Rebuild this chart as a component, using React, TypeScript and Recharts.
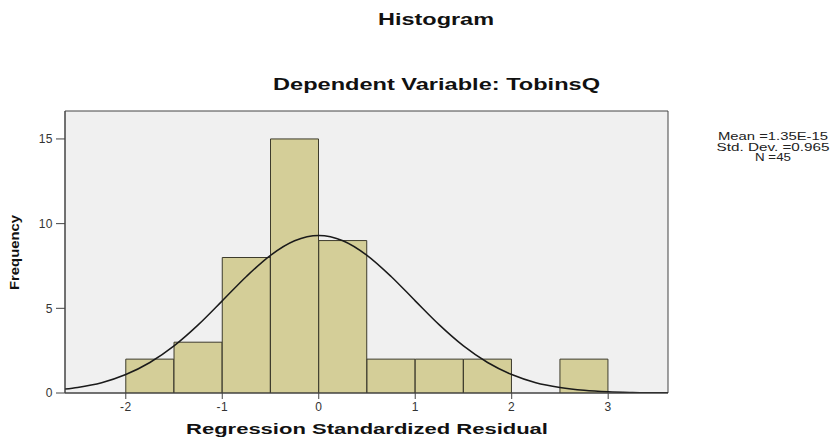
import React from 'react';
import { ComposedChart, Bar, Line, XAxis, YAxis, CartesianGrid, ReferenceArea } from 'recharts';

// histogram bins (width 0.5) and their counts
const binCenters = [-1.75, -1.25, -0.75, -0.25, 0.25, 0.75, 1.25, 1.75, 2.25, 2.75];
const frequencies = [2, 3, 8, 15, 9, 2, 2, 2, 0, 2];

// normal curve
const curveX = [-2.63, -2.5, -2.25, -2, -1.75, -1.5, -1.25, -1, -0.75, -0.5, -0.25, 0, 0.25, 0.5, 0.75, 1, 1.25, 1.5, 1.75, 2, 2.25, 2.5, 2.75, 3, 3.25, 3.5, 3.62];
const curveY = [0.23, 0.33, 0.61, 1.09, 1.8, 2.78, 4.02, 5.44, 6.88, 8.13, 8.99, 9.3, 8.99, 8.13, 6.88, 5.44, 4.02, 2.78, 1.8, 1.09, 0.61, 0.33, 0.16, 0.07, 0.03, 0.01, 0.01];

const xTicks = [-2, -1, 0, 1, 2, 3];
const yTicks = [0, 5, 10, 15];
const statsLines = ['Mean =1.35E-15', 'Std. Dev. =0.965', 'N =45'];
const statsWidths = [110, 113, 36];

const X_DOMAIN: [number, number] = [-2.63, 3.62];
const Y_DOMAIN: [number, number] = [0, 16.65];

const FONT = '"Liberation Sans", Arial, sans-serif';

const binData = binCenters.map((x, i) => ({ x, count: frequencies[i] }));
const curveData = curveX.map((x, i) => ({ x, y: curveY[i] }));

const tickStyle = { fontSize: 12, fill: '#333', fontFamily: FONT, letterSpacing: 0.5 };

export default function App() {
    return (
        <div style={{ position: 'absolute', left: 0, top: 0, width: 835, height: 441, background: '#fff' }}>
            <ComposedChart
                width={835}
                height={441}
                data={binData}
                margin={{ top: 111, right: 167, bottom: 2, left: 15 }}
                barCategoryGap={0}
                barGap={0}
            >
                <CartesianGrid fill="#f0f0f0" horizontal={false} vertical={false} />
                <XAxis
                    dataKey="x"
                    type="number"
                    domain={X_DOMAIN}
                    ticks={xTicks}
                    allowDataOverflow
                    height={46}
                    tickSize={6}
                    tickMargin={3}
                    axisLine={{ stroke: '#444' }}
                    tickLine={{ stroke: '#444' }}
                    tick={tickStyle}
                />
                <XAxis xAxisId="curve" dataKey="x" type="number" domain={X_DOMAIN} allowDataOverflow hide />
                <YAxis
                    domain={Y_DOMAIN}
                    ticks={yTicks}
                    allowDataOverflow
                    width={50}
                    tickSize={9}
                    tickMargin={3}
                    axisLine={{ stroke: '#444' }}
                    tickLine={{ stroke: '#444' }}
                    tick={tickStyle}
                />
                <Bar dataKey="count" fill="#d4ce98" stroke="#3d3b2c" strokeWidth={1} isAnimationActive={false} />
                <Line
                    xAxisId="curve"
                    data={curveData}
                    dataKey="y"
                    type="monotone"
                    dot={false}
                    stroke="#1a1a1a"
                    strokeWidth={1.5}
                    isAnimationActive={false}
                />
                <ReferenceArea
                    x1={X_DOMAIN[0]}
                    x2={X_DOMAIN[1]}
                    y1={Y_DOMAIN[0]}
                    y2={Y_DOMAIN[1]}
                    fill="none"
                    stroke="#444"
                    strokeWidth={1}
                    ifOverflow="visible"
                />
            </ComposedChart>
            <svg
                width={835}
                height={441}
                style={{ position: 'absolute', left: 0, top: 0, pointerEvents: 'none' }}
                fontFamily={FONT}
                fontWeight="bold"
                fill="#111"
            >
                <text x={436} y={25} fontSize={17} textAnchor="middle" textLength={116} lengthAdjust="spacingAndGlyphs">
                    Histogram
                </text>
                <text x={436.5} y={90} fontSize={17} textAnchor="middle" textLength={327} lengthAdjust="spacingAndGlyphs">
                    Dependent Variable: TobinsQ
                </text>
                <text x={367} y={434} fontSize={14} textAnchor="middle" textLength={362} lengthAdjust="spacingAndGlyphs">
                    Regression Standardized Residual
                </text>
                <text
                    x={19}
                    y={252.5}
                    fontSize={13}
                    textAnchor="middle"
                    transform="rotate(-90, 19, 252.5)"
                    textLength={75}
                    lengthAdjust="spacingAndGlyphs"
                >
                    Frequency
                </text>
                {statsLines.map((s, i) => (
                    <text
                        key={s}
                        x={773}
                        y={140 + i * 10.5}
                        fontSize={11}
                        fontWeight="normal"
                        fill="#222"
                        textAnchor="middle"
                        textLength={statsWidths[i]}
                        lengthAdjust="spacingAndGlyphs"
                    >
                        {s}
                    </text>
                ))}
            </svg>
        </div>
    );
}
